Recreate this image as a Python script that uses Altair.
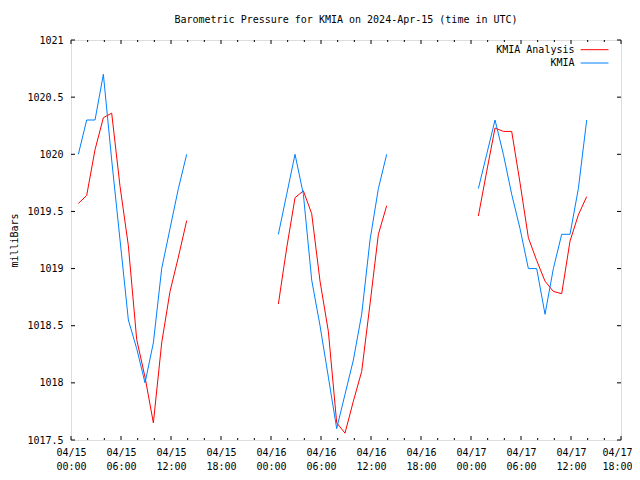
import altair as alt
import pandas as pd

# ---------------- data ----------------
days = ["2024-04-15", "2024-04-16", "2024-04-17"]
obs_hours = list(range(14))          # 00:53 ... 13:53 UTC each day
obs_minute = 53

kmia_day1 = [1020.0, 1020.3, 1020.3, 1020.7, 1019.95, 1019.25, 1018.55, 1018.3, 1018.0, 1018.35, 1019.0, 1019.35, 1019.7, 1020.0]
kmia_day2 = [1019.3, 1019.65, 1020.0, 1019.65, 1018.9, 1018.5, 1018.05, 1017.6, 1017.9, 1018.2, 1018.6, 1019.25, 1019.7, 1020.0]
kmia_day3 = [1019.7, 1020.0, 1020.3, 1020.0, 1019.65, 1019.35, 1019.0, 1019.0, 1018.6, 1019.0, 1019.3, 1019.3, 1019.7, 1020.3]

anal_day1 = [1019.57, 1019.64, 1020.04, 1020.32, 1020.36, 1019.72, 1019.2, 1018.38, 1018.05, 1017.65, 1018.35, 1018.8, 1019.1, 1019.42]
anal_day2 = [1018.69, 1019.18, 1019.62, 1019.68, 1019.48, 1018.89, 1018.45, 1017.65, 1017.56, 1017.84, 1018.1, 1018.69, 1019.3, 1019.55]
anal_day3 = [1019.46, 1019.85, 1020.23, 1020.2, 1020.2, 1019.75, 1019.27, 1019.07, 1018.89, 1018.8, 1018.78, 1019.24, 1019.47, 1019.63]

series_names = ["KMIA Analysis", "KMIA"]
series_colors = ["#ff0000", "#0080ff"]
series_values = {"KMIA Analysis": [anal_day1, anal_day2, anal_day3],
                 "KMIA": [kmia_day1, kmia_day2, kmia_day3]}

y_ticks = [1017.5, 1018.0, 1018.5, 1019.0, 1019.5, 1020.0, 1020.5, 1021.0]
x_start = "2024-04-15T00:00:00Z"
x_end = "2024-04-17T18:00:00Z"

title_text = "Barometric Pressure for KMIA on 2024-Apr-15 (time in UTC)"
y_title = "milliBars"
FONT = "DejaVu Sans Mono"

# ---------------- tables ----------------
rows = []
for name in series_names:
    for d, day in enumerate(days):
        for i, h in enumerate(obs_hours):
            rows.append({"time": f"{day}T{h:02d}:{obs_minute:02d}:00Z",
                         "series": name, "seg": d,
                         "value": series_values[name][d][i]})
df = pd.DataFrame(rows)

tick_times = pd.date_range(x_start, x_end, freq="2h", tz="UTC")
major = [t.strftime("%Y-%m-%dT%H:%M:%SZ") for t in tick_times if t.hour % 6 == 0]
minor = [t.strftime("%Y-%m-%dT%H:%M:%SZ") for t in tick_times if t.hour % 6 != 0]
major_df = pd.DataFrame({"t": major})
minor_df = pd.DataFrame({"t": minor})
ytick_df = pd.DataFrame({"v": y_ticks})

W, H = 550, 400

x_scale = alt.Scale(type="utc", domain=[x_start, x_end], nice=False)
y_scale = alt.Scale(domain=[y_ticks[0], y_ticks[-1]], nice=False, zero=False)

x_axis = alt.Axis(
    values=major, title=None, grid=False, domain=False, ticks=False,
    labelExpr="[utcFormat(datum.value, '%m/%d'), utcFormat(datum.value, '%H:%M')]",
    labelFont=FONT, labelFontSize=10, labelColor="black", labelPadding=7,
    labelLineHeight=14, labelFlush=False, labelOverlap=False, labelBound=False,
    labelOffset={"condition": {"test": f"datum.value >= toDate('{x_end}')", "value": -4},
                 "value": 0},
)
y_axis = alt.Axis(
    values=y_ticks, format="~g", grid=False, domain=False, ticks=False,
    labelFont=FONT, labelFontSize=10, labelColor="black", labelPadding=8,
    labelFlush=False, labelOverlap=False,
    title=y_title, titleFont=FONT, titleFontSize=10, titleFontWeight="normal",
    titleColor="black", titleX=-57, titleY=H / 2, titleAngle=270,
    titleAlign="center", titleBaseline="middle",
)

lines = alt.Chart(df).mark_line(strokeWidth=1, interpolate="linear").encode(
    x=alt.X("time:T", scale=x_scale, axis=x_axis),
    y=alt.Y("value:Q", scale=y_scale, axis=y_axis),
    color=alt.Color("series:N", scale=alt.Scale(domain=series_names, range=series_colors), legend=None),
    detail="seg:N",
)

def xticks(data, length, top):
    y0 = 0 if top else H
    y1 = length if top else H - length
    return alt.Chart(data).mark_rule(color="black", strokeWidth=1).encode(
        x=alt.X("t:T", scale=x_scale, axis=x_axis),
        y=alt.value(y0), y2=alt.value(y1))

def yticks(left):
    x0, x1 = (0, 4) if left else (W - 4, W)
    return alt.Chart(ytick_df).mark_rule(color="black", strokeWidth=1).encode(
        y=alt.Y("v:Q", scale=y_scale, axis=y_axis),
        x=alt.value(x0), x2=alt.value(x1))

tick_layers = [xticks(major_df, 4, False), xticks(major_df, 4, True),
               xticks(minor_df, 2, False), xticks(minor_df, 2, True),
               yticks(True), yticks(False)]

legend_layers = []
for i, (name, col) in enumerate(zip(series_names, series_colors)):
    one = pd.DataFrame({"series": [name]})
    yy = 9.7 + 13.3 * i
    legend_layers.append(alt.Chart(one).mark_text(
        align="right", baseline="middle", font=FONT, fontSize=10, color="black").encode(
        text="series:N", x=alt.value(503.5), y=alt.value(yy)))
    legend_layers.append(alt.Chart(one).mark_rule(color=col, strokeWidth=1).encode(
        x=alt.value(509.7), x2=alt.value(537.5), y=alt.value(yy)))

chart = alt.layer(lines, *tick_layers, *legend_layers).properties(
    width=W, height=H,
    title=alt.TitleParams(title_text, font=FONT, fontSize=10, fontWeight="normal",
                          color="black", anchor="middle", baseline="middle", offset=5.5),
    autosize=alt.AutoSizeParams(type="none"),
    padding={"left": 63, "top": 32, "right": 11, "bottom": 32},
).configure_view(stroke="black", strokeWidth=1).configure(background="white")

chart.save("out.html", embed_options={"renderer": "svg", "actions": False})
